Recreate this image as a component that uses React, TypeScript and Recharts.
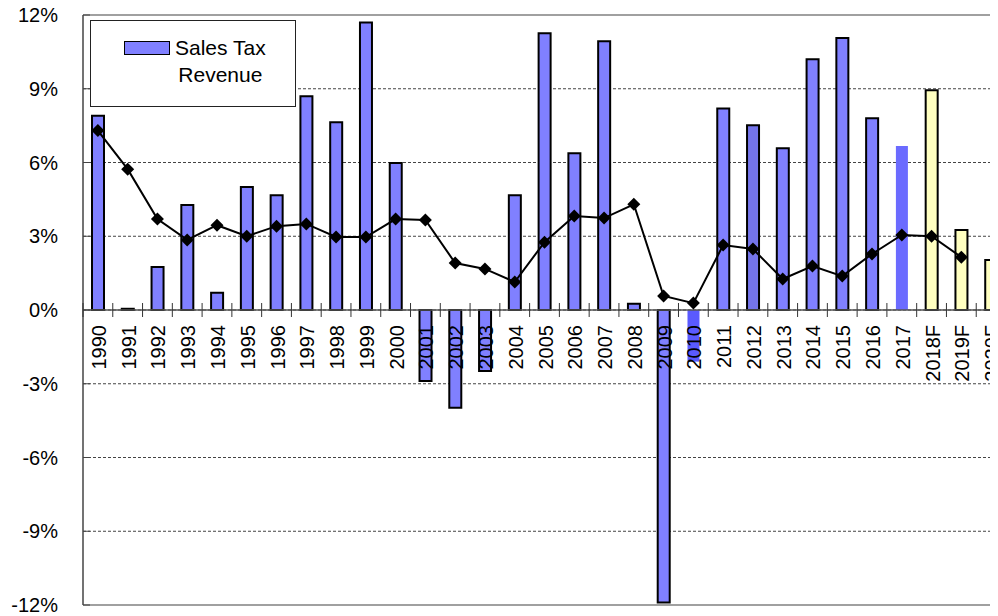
import { Bar, Cell, ComposedChart, Legend, Line, ReferenceLine, XAxis, YAxis, CartesianGrid } from "recharts"

const years = [
  "1990", "1991", "1992", "1993", "1994", "1995", "1996", "1997", "1998", "1999",
  "2000", "2001", "2002", "2003", "2004", "2005", "2006", "2007", "2008", "2009",
  "2010", "2011", "2012", "2013", "2014", "2015", "2016", "2017", "2018F", "2019F", "2020F",
]
const salesTax = [
  7.9, 0.05, 1.75, 4.27, 0.7, 5.0, 4.67, 8.7, 7.64, 11.7,
  5.98, -2.89, -3.98, -2.48, 4.67, 11.26, 6.38, 10.93, 0.25, -11.9,
  -2.1, 8.2, 7.52, 6.58, 10.2, 11.06, 7.8, 6.67, 8.94, 3.25, 2.03,
]
const growth = [
  7.3, 5.73, 3.7, 2.85, 3.45, 3.0, 3.41, 3.5, 2.97, 2.97,
  3.7, 3.66, 1.91, 1.67, 1.14, 2.76, 3.82, 3.74, 4.3, 0.57,
  0.28, 2.64, 2.48, 1.26, 1.79, 1.38, 2.28, 3.05, 3.0, 2.15, null,
]
const yTicks = [-12, -9, -6, -3, 0, 3, 6, 9, 12]

const data = years.map((year, i) => ({ year, salesTax: salesTax[i], growth: growth[i] }))

const W = 998
const H = 608
const TOP = 7
const BOTTOM = 10
const XH = 1
const LEFT = 75
const ZERO_Y = TOP + (H - TOP - BOTTOM - XH) / 2
const STEP = (W - LEFT) / years.length
const FONT = "'Liberation Sans', Arial, sans-serif"

function barFill(year: string) {
  if (year.endsWith("F")) return "#ffffc0"
  if (year === "2017") return "#6b6bff"
  if (year === "2010") return "#5a5aff"
  if (year === "2012") return "#7474ea"
  return "#8080ff"
}

function barStroke(year: string) {
  if (year === "2017" || year === "2010") return "none"
  return "#000"
}

const CategoryTick = (props: any) => {
  const { x, payload } = props
  return (
    <g>
      <line x1={x - STEP / 2} x2={x - STEP / 2} y1={ZERO_Y - 7} y2={ZERO_Y + 7} stroke="#333" strokeWidth={1} />
      <text
        transform={`translate(${x + 1},${ZERO_Y + 15}) rotate(-90)`}
        textAnchor="end"
        dominantBaseline="central"
        fontSize={20}
        fontFamily={FONT}
        fill="#000"
      >
        {payload.value}
      </text>
    </g>
  )
}

const Diamond = (props: any) => {
  const { cx, cy, value, index } = props
  if (value == null || cx == null || cy == null) return <g key={`d-${index}`} />
  const r = 6.5
  return (
    <polygon
      key={`d-${index}`}
      points={`${cx},${cy - r} ${cx + r},${cy} ${cx},${cy + r} ${cx - r},${cy}`}
      fill="#000"
    />
  )
}

const LegendBox = () => (
  <div
    style={{
      width: 206,
      height: 87,
      border: "1.5px solid #222",
      background: "#fff",
      boxSizing: "border-box",
      position: "relative",
      fontFamily: FONT,
      fontSize: 21,
      color: "#000",
    }}
  >
    <div
      style={{
        position: "absolute",
        left: 33,
        top: 20,
        width: 44,
        height: 12,
        background: "#8080ff",
        border: "1.5px solid #000",
      }}
    />
    <div style={{ position: "absolute", left: 84, top: 13, lineHeight: "27px", textAlign: "center" }}>
      Sales Tax
      <br />
      Revenue
    </div>
  </div>
)

export default function App() {
  return (
    <div style={{ width: 990, height: 608, overflow: "hidden" }}>
      <style>{"html, body { overflow: hidden; }"}</style>
      <ComposedChart width={W} height={H} data={data} margin={{ top: TOP, right: 0, bottom: BOTTOM, left: 0 }}>
        <CartesianGrid vertical={false} horizontal stroke="#444" strokeDasharray="3 2" />
        <XAxis
          dataKey="year"
          height={XH}
          axisLine={false}
          tickLine={false}
          interval={0}
          tick={(p: any) => <CategoryTick {...p} />}
        />
        <YAxis
          width={LEFT}
          domain={[-12, 12]}
          ticks={yTicks}
          interval={0}
          tickFormatter={(v: number) => `${v}%`}
          tickLine={{ stroke: "#444", strokeWidth: 1 }}
          tickSize={-7}
          tickMargin={32}
          axisLine={{ stroke: "#444", strokeWidth: 1.5 }}
          tick={{ fontSize: 20, fill: "#000", fontFamily: FONT }}
        />
        <ReferenceLine y={12} stroke="#a0a0a0" strokeWidth={2} />
        <ReferenceLine y={-12} stroke="#a0a0a0" strokeWidth={2} />
        <ReferenceLine y={0} stroke="#555" strokeWidth={1.5} />
        <Legend
          layout="horizontal"
          verticalAlign="middle"
          align="center"
          wrapperStyle={{ position: "absolute", left: 82, top: 12, width: 206, height: 87 }}
          content={() => <LegendBox />}
        />
        <Bar dataKey="salesTax" name="Sales Tax Revenue" barSize={12} strokeWidth={2} isAnimationActive={false}>
          {data.map((d, i) => (
            <Cell key={`cell-${i}`} fill={barFill(d.year)} stroke={barStroke(d.year)} />
          ))}
        </Bar>
        <Line
          dataKey="growth"
          stroke="#000"
          strokeWidth={2}
          dot={Diamond}
          activeDot={false}
          legendType="none"
          isAnimationActive={false}
        />
      </ComposedChart>
    </div>
  )
}
